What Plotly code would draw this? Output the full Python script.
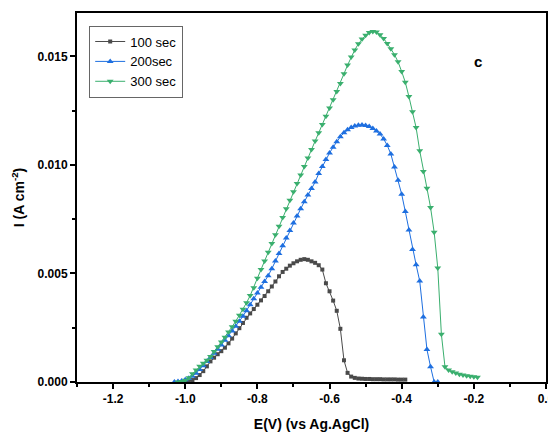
import plotly.graph_objects as go

# ---- data ----
x100 = [-1.00, -0.99, -0.98, -0.97, -0.96, -0.95, -0.94, -0.93, -0.92, -0.91,
        -0.90, -0.89, -0.88, -0.87, -0.86, -0.85, -0.84, -0.83, -0.82, -0.81,
        -0.80, -0.79, -0.78, -0.77, -0.76, -0.75, -0.74, -0.73, -0.72, -0.71,
        -0.70, -0.69, -0.68, -0.67, -0.66, -0.65, -0.64, -0.63, -0.62, -0.61,
        -0.60, -0.59, -0.58, -0.57, -0.56, -0.55, -0.54, -0.53, -0.52, -0.51,
        -0.50, -0.49, -0.48, -0.47, -0.46, -0.45, -0.44, -0.43, -0.42, -0.41,
        -0.40, -0.39]
y100 = [0.00000, 0.00003, 0.00009, 0.00018, 0.00032, 0.00050, 0.00072, 0.00095, 0.00112, 0.00128,
        0.00142, 0.00158, 0.00178, 0.00200, 0.00224, 0.00248, 0.00272, 0.00296, 0.00316, 0.00336,
        0.00356, 0.00376, 0.00396, 0.00418, 0.00440, 0.00463, 0.00487, 0.00507, 0.00522, 0.00536,
        0.00547, 0.00556, 0.00563, 0.00566, 0.00563, 0.00556, 0.00549, 0.00538, 0.00518, 0.00455,
        0.00418, 0.00375, 0.00328, 0.00245, 0.00100, 0.00042, 0.00025, 0.00019, 0.00016, 0.00015,
        0.00014, 0.00014, 0.00013, 0.00013, 0.00013, 0.00012, 0.00012, 0.00012, 0.00012, 0.00011,
        0.00011, 0.00011]

x200 = [-1.03, -1.02, -1.01, -1.00, -0.99, -0.98, -0.97, -0.96, -0.95, -0.94,
        -0.93, -0.92, -0.91, -0.90, -0.89, -0.88, -0.87, -0.86, -0.85, -0.84,
        -0.83, -0.82, -0.81, -0.80, -0.79, -0.78, -0.77, -0.76, -0.75, -0.74,
        -0.73, -0.72, -0.71, -0.70, -0.69, -0.68, -0.67, -0.66, -0.65, -0.64,
        -0.63, -0.62, -0.61, -0.60, -0.59, -0.58, -0.57, -0.56, -0.55, -0.54,
        -0.53, -0.52, -0.51, -0.50, -0.49, -0.48, -0.47, -0.46, -0.45, -0.44,
        -0.43, -0.42, -0.41, -0.40, -0.39, -0.38, -0.37, -0.36, -0.35, -0.34,
        -0.33, -0.32, -0.31, -0.30]
y200 = [0.00000, 0.00002, 0.00005, 0.00010, 0.00017, 0.00027, 0.00040, 0.00058, 0.00075, 0.00094,
        0.00113, 0.00132, 0.00151, 0.00171, 0.00192, 0.00213, 0.00235, 0.00257, 0.00280, 0.00303,
        0.00328, 0.00356, 0.00383, 0.00410, 0.00436, 0.00463, 0.00490, 0.00522, 0.00557, 0.00592,
        0.00628, 0.00663, 0.00698, 0.00732, 0.00765, 0.00798, 0.00830, 0.00861, 0.00891, 0.00921,
        0.00960, 0.00993, 0.01025, 0.01055, 0.01082, 0.01107, 0.01130, 0.01148, 0.01162, 0.01172,
        0.01179, 0.01183, 0.01184, 0.01182, 0.01177, 0.01168, 0.01156, 0.01142, 0.01120, 0.01090,
        0.01050, 0.00990, 0.00930, 0.00865, 0.00785, 0.00700, 0.00610, 0.00540, 0.00465, 0.00300,
        0.00150, 0.00070, 0.00000, 0.00000]

x300 = [-1.02, -1.01, -1.00, -0.99, -0.98, -0.97, -0.96, -0.95, -0.94, -0.93,
        -0.92, -0.91, -0.90, -0.89, -0.88, -0.87, -0.86, -0.85, -0.84, -0.83,
        -0.82, -0.81, -0.80, -0.79, -0.78, -0.77, -0.76, -0.75, -0.74, -0.73,
        -0.72, -0.71, -0.70, -0.69, -0.68, -0.67, -0.66, -0.65, -0.64, -0.63,
        -0.62, -0.61, -0.60, -0.59, -0.58, -0.57, -0.56, -0.55, -0.54, -0.53,
        -0.52, -0.51, -0.50, -0.49, -0.48, -0.47, -0.46, -0.45, -0.44, -0.43,
        -0.42, -0.41, -0.40, -0.39, -0.38, -0.37, -0.36, -0.35, -0.34, -0.33,
        -0.32, -0.31, -0.30, -0.29, -0.28, -0.27, -0.26, -0.25, -0.24, -0.23,
        -0.22, -0.21, -0.20, -0.19]
y300 = [0.00000, 0.00002, 0.00008, 0.00020, 0.00038, 0.00055, 0.00072, 0.00086, 0.00100, 0.00118,
        0.00140, 0.00162, 0.00184, 0.00206, 0.00230, 0.00255, 0.00280, 0.00307, 0.00335, 0.00365,
        0.00398, 0.00434, 0.00478, 0.00518, 0.00558, 0.00598, 0.00638, 0.00678, 0.00718, 0.00758,
        0.00798, 0.00837, 0.00876, 0.00915, 0.00954, 0.00993, 0.01032, 0.01071, 0.01110, 0.01148,
        0.01186, 0.01224, 0.01262, 0.01300, 0.01338, 0.01375, 0.01420, 0.01460, 0.01497, 0.01530,
        0.01558, 0.01580, 0.01598, 0.01610, 0.01615, 0.01612, 0.01600, 0.01583, 0.01560, 0.01535,
        0.01508, 0.01475, 0.01430, 0.01381, 0.01315, 0.01245, 0.01172, 0.01065, 0.00970, 0.00893,
        0.00804, 0.00690, 0.00525, 0.00220, 0.00070, 0.00055, 0.00047, 0.00041, 0.00036, 0.00032,
        0.00029, 0.00026, 0.00024, 0.00022]

xticks = [-1.2, -1.0, -0.8, -0.6, -0.4, -0.2, 0.0]
xticklabels = ["-1.2", "-1.0", "-0.8", "-0.6", "-0.4", "-0.2", "0.0"]
yticks = [0.000, 0.005, 0.010, 0.015]
yticklabels = ["0.000", "0.005", "0.010", "0.015"]

GRAY = "#4a4a4a"
BLUE = "#1e6fe0"
GREEN = "#3aaf6e"

fig = go.Figure()
fig.add_trace(go.Scatter(x=x100, y=y100, name="100 sec", mode="lines+markers",
                         line=dict(color=GRAY, width=1),
                         marker=dict(symbol="square", size=4, color=GRAY)))
fig.add_trace(go.Scatter(x=x200, y=y200, name="200sec", mode="lines+markers",
                         line=dict(color=BLUE, width=1),
                         marker=dict(symbol="triangle-up", size=6, color=BLUE)))
fig.add_trace(go.Scatter(x=x300, y=y300, name="300 sec", mode="lines+markers",
                         line=dict(color=GREEN, width=1),
                         marker=dict(symbol="triangle-down", size=6, color=GREEN)))

font_family = "Liberation Sans, Arial, sans-serif"

# the page body adds an 8px offset, so the figure is sized to fit the window
fig.update_layout(
    width=548, height=426,
    margin=dict(l=69, r=10, t=5, b=52, autoexpand=False),
    paper_bgcolor="white", plot_bgcolor="white",
    font=dict(family=font_family, color="black"),
    showlegend=True,
    legend=dict(x=0.026, y=0.966, xanchor="left", yanchor="top",
                bgcolor="white", bordercolor="#666666", borderwidth=1,
                font=dict(size=13, family=font_family), tracegroupgap=0,
                itemwidth=30),
    xaxis=dict(range=[-1.3, 0.0], tickmode="array", tickvals=xticks, ticktext=xticklabels,
               automargin=False, ticklabeloverflow="allow",
               showgrid=False, zeroline=False, showline=True, linecolor="black", linewidth=2,
               mirror=True, ticks="outside", ticklen=5, tickwidth=2, tickcolor="black",
               tickfont=dict(size=12, family=font_family, weight="bold"),
               minor=dict(tickvals=[-1.3, -1.1, -0.9, -0.7, -0.5, -0.3, -0.1], ticks="outside",
                          ticklen=3, tickwidth=2, tickcolor="black"),
               title=dict(text="E(V) (vs Ag.AgCl)", standoff=14,
                          font=dict(size=14, family=font_family, weight="bold"))),
    yaxis=dict(range=[0, 0.017], tickmode="array", tickvals=yticks, ticktext=yticklabels,
               automargin=False,
               showgrid=False, zeroline=False, showline=True, linecolor="black", linewidth=2,
               mirror=True, ticks="outside", ticklen=5, tickwidth=2, tickcolor="black",
               tickfont=dict(size=12, family=font_family, weight="bold"),
               minor=dict(tickvals=[0.0025, 0.0075, 0.0125], ticks="outside",
                          ticklen=3, tickwidth=2, tickcolor="black"),
               title=dict(text="I (A cm<sup>-2</sup>)", standoff=10,
                          font=dict(size=14, family=font_family, weight="bold"))),
    annotations=[dict(text="<b>c</b>", x=0.868, y=0.896, xref="paper", yref="paper",
                      showarrow=False, font=dict(size=15, family=font_family))],
)

fig.write_html("out.html")
